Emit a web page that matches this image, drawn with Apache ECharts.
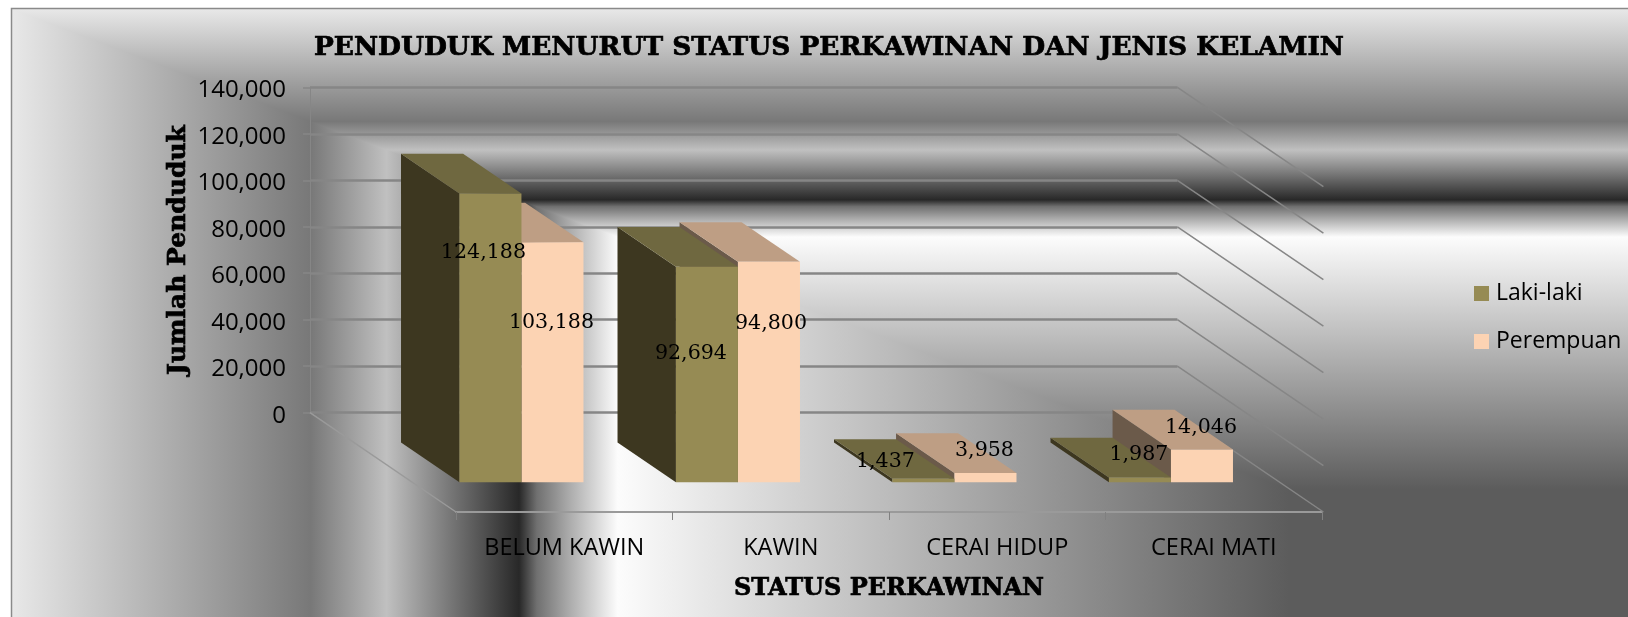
<!DOCTYPE html>
<html>
<head>
<meta charset="utf-8">
<title>Penduduk menurut status perkawinan dan jenis kelamin</title>
<script src="https://cdn.jsdelivr.net/npm/echarts@6/dist/echarts.min.js"></script>
<style>
  html, body { margin: 0; padding: 0; background: #fff; }
  #chart { width: 1628px; height: 617px; }
</style>
</head>
<body>
<div id="chart"></div>
<script>
// data
const categories = ['BELUM KAWIN', 'KAWIN', 'CERAI HIDUP', 'CERAI MATI'];
const lakiLaki = [124188, 92694, 1437, 1987];
const perempuan = [103188, 94800, 3958, 14046];
const valueTicks = [0, 20000, 40000, 60000, 80000, 100000, 120000, 140000];

// hand placed value labels, px from the top centre of the front face
const lakiLabelShift = [[-7, 59], [-16, 87], [-38, -17], [-1, -23]];
const perempuanLabelShift = [[-1, 80], [2, 62], [-1, -22], [-1, -22]];

// oblique projection of the box
const DEPTH_X = 146, DEPTH_Y = 99.3;
const BAR_FRONT = 0.3, BAR_BACK = 0.7; // bar depth, as share of floor measured from the front
const BAR_SHARE = 0.2865;
const BAR_NUDGE = 1;

const LABEL_FONT = '20.6px "DejaVu Serif"';
const GRID_COLOR = '#868686';

// metallic stops of the chart area fill
const steelStops = [
  { offset: 0, color: '#e8e8e8' },
  { offset: 0.185, color: '#787878' },
  { offset: 0.232, color: '#c0c0c0' },
  { offset: 0.314, color: '#282828' },
  { offset: 0.325, color: '#707070' },
  { offset: 0.345, color: '#ababab' },
  { offset: 0.375, color: '#fcfcfc' },
  { offset: 0.79, color: '#5c5c5c' },
  { offset: 1, color: '#5c5c5c' }
];

// heavy slab look for the titles
const titleFont = {
  fontFamily: 'DejaVu Serif', fontWeight: 'bold', color: '#000',
  textBorderColor: '#000', textBorderWidth: 0.7
};

function bar3d(slot, colors, z2, labelShift) {
  return function (params, api) {
    const cat = api.value(0), val = api.value(1);
    const base = api.coord([cat, 0]);
    const top = api.coord([cat, val]);
    const band = api.size([1, 0])[0];
    const w = band * BAR_SHARE;
    const fx = DEPTH_X * BAR_FRONT, fy = DEPTH_Y * BAR_FRONT;
    const bx = DEPTH_X * BAR_BACK, by = DEPTH_Y * BAR_BACK;
    const x0 = base[0] + (slot - 1) * w - fx + BAR_NUDGE;
    const x1 = x0 + w;
    const yTop = top[1] - fy, yBase = base[1] - fy;
    const dx = bx - fx, dy = by - fy;
    const poly = (points, fill) => ({
      type: 'polygon', z2: z2, shape: { points: points }, style: { fill: fill }
    });
    const shift = labelShift[cat];
    return {
      type: 'group',
      children: [
        poly([[x0, yTop], [x0 - dx, yTop - dy], [x0 - dx, yBase - dy], [x0, yBase]], colors.side),
        poly([[x0, yTop], [x0 - dx, yTop - dy], [x1 - dx, yTop - dy], [x1, yTop]], colors.top),
        poly([[x0, yTop], [x1, yTop], [x1, yBase], [x0, yBase]], colors.front),
        {
          type: 'text', z2: 10,
          x: (x0 + x1) / 2 + shift[0], y: yTop + shift[1],
          style: {
            text: echarts.format.addCommas(val), font: LABEL_FONT, fill: '#000',
            textAlign: 'center', textVerticalAlign: 'middle'
          }
        }
      ]
    };
  };
}

// side wall lines and floor edges, from the back wall's value axis
function wallLines(params, api) {
  const val = api.value(0);
  const box = params.coordSys;
  const y = api.coord([0, val])[1];
  const right = box.x + box.width;
  const lineStyle = { stroke: GRID_COLOR, lineWidth: 1.5 };
  const children = [{
    type: 'line', shape: { x1: right, y1: y, x2: right + DEPTH_X, y2: y + DEPTH_Y }, style: lineStyle
  }];
  if (val === 0) {
    children.push({
      type: 'line', shape: { x1: box.x, y1: y, x2: box.x + DEPTH_X, y2: y + DEPTH_Y },
      style: { stroke: '#9a9a9a', lineWidth: 1.5 }
    });
  }
  return { type: 'group', children: children };
}

const chart = echarts.init(document.getElementById('chart'));
chart.setOption({
  animation: false,
  backgroundColor: '#fff',
  graphic: [
    {
      type: 'polygon', z: -10, silent: true,
      shape: { points: [[11.5, 9], [1628, 9], [1628, 617], [11.5, 617]] },
      style: { fill: { type: 'linear', x: 0, y: 0, x2: 0, y2: 1, colorStops: steelStops } }
    },
    {
      type: 'polygon', z: -9, silent: true,
      shape: { points: [[11.5, 9], [1628, 617], [11.5, 617]] },
      style: { fill: { type: 'linear', x: 0, y: 0, x2: 1, y2: 0, colorStops: steelStops } }
    },
    {
      type: 'rect', z: -8, silent: true,
      shape: { x: 11.5, y: 8.5, width: 1640, height: 640 },
      style: { fill: null, stroke: '#8a8a8a', lineWidth: 1.5 }
    }
  ],
  title: {
    text: 'PENDUDUK MENURUT STATUS PERKAWINAN DAN JENIS KELAMIN',
    left: 824, top: 30, textAlign: 'center',
    textStyle: Object.assign({ fontSize: 26.4 }, titleFont)
  },
  legend: {
    orient: 'vertical', left: 1469, top: 277,
    data: ['Laki-laki', 'Perempuan'],
    icon: 'rect', itemWidth: 15, itemHeight: 15, itemGap: 25, selectedMode: false,
    textStyle: { fontFamily: 'Open Sans', fontSize: 23, color: '#000', padding: [0, 0, 0, 2] }
  },
  grid: [
    { left: 310, top: 87.3, width: 867.4, height: 325.4 }, // back wall
    { left: 456, top: 186.6, width: 866, height: 325.4 }   // front plane
  ],
  xAxis: [
    { gridIndex: 0, type: 'category', data: categories, show: false },
    {
      gridIndex: 1, type: 'category', data: categories,
      name: 'STATUS PERKAWINAN', nameLocation: 'middle', nameGap: 65,
      nameTextStyle: Object.assign({ fontSize: 24 }, titleFont),
      axisLine: { lineStyle: { color: '#9a9a9a', width: 2 } },
      axisTick: { show: true, length: 8, lineStyle: { color: '#808080', width: 1 } },
      axisLabel: { margin: 24, interval: 0, fontFamily: 'Open Sans', fontSize: 23.5, color: '#000' },
      splitLine: { show: false }
    }
  ],
  yAxis: [
    {
      gridIndex: 0, type: 'value', min: 0, max: 140000, interval: 20000,
      name: 'Jumlah Penduduk', nameLocation: 'middle', nameGap: 119, nameRotate: 90, nameMoveOverlap: false,
      nameTextStyle: Object.assign({ fontSize: 25 }, titleFont),
      axisLine: { show: true, lineStyle: { color: GRID_COLOR, width: 1 } },
      axisTick: { show: true, length: 7, lineStyle: { color: GRID_COLOR, width: 1.5 } },
      axisLabel: {
        margin: 24, formatter: '{a|{value}}',
        rich: { a: { padding: [6, 0, 0, 0], fontFamily: 'Open Sans', fontSize: 24, color: '#000' } }
      },
      splitLine: { show: true, lineStyle: { color: GRID_COLOR, width: 2.5 } }
    },
    { gridIndex: 1, type: 'value', min: 0, max: 140000, interval: 20000, show: false, splitLine: { show: false } }
  ],
  series: [
    {
      name: 'wall', type: 'custom', xAxisIndex: 0, yAxisIndex: 0, silent: true,
      encode: { x: -1, y: 0 },
      data: valueTicks, renderItem: wallLines
    },
    {
      name: 'Laki-laki', type: 'custom', xAxisIndex: 1, yAxisIndex: 1, silent: true,
      encode: { x: 0, y: 1 },
      itemStyle: { color: '#968b54' },
      data: lakiLaki.map((v, i) => [i, v]),
      renderItem: bar3d(0, { front: '#968b54', top: '#6f6840', side: '#3d3720' }, 2, lakiLabelShift)
    },
    {
      name: 'Perempuan', type: 'custom', xAxisIndex: 1, yAxisIndex: 1, silent: true,
      encode: { x: 0, y: 1 },
      itemStyle: { color: '#fcd3b3' },
      data: perempuan.map((v, i) => [i, v]),
      renderItem: bar3d(1, { front: '#fcd3b3', top: '#be9e84', side: '#6b5a4a' }, 1, perempuanLabelShift)
    }
  ]
});
</script>
</body>
</html>
